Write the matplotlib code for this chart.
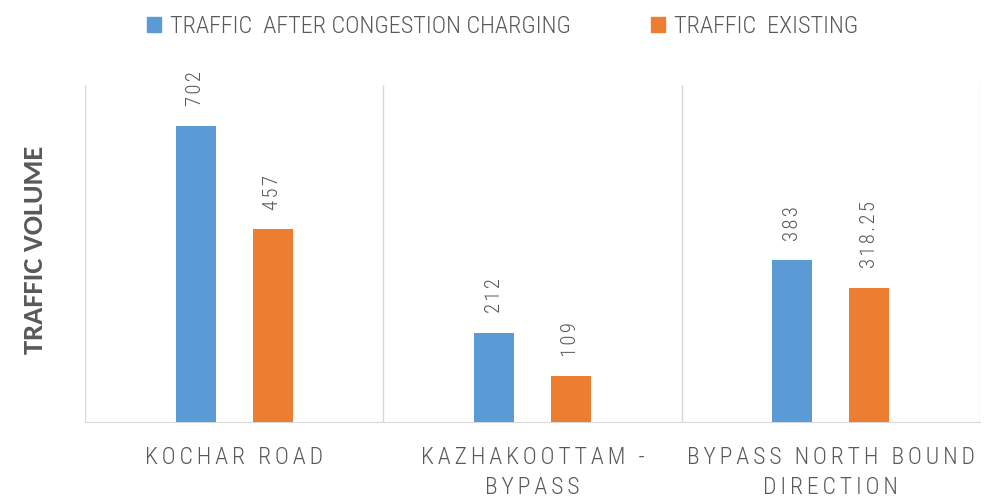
import matplotlib
matplotlib.use("Agg")
import matplotlib.pyplot as plt
import numpy as np
from matplotlib.patches import Patch

categories = ["KOCHAR ROAD", "KAZHAKOOTTAM -\nBYPASS", "BYPASS NORTH BOUND\nDIRECTION"]
after_charging = [702, 212, 383]
existing = [457, 109, 318.25]
series_names = ["TRAFFIC  AFTER CONGESTION CHARGING", "TRAFFIC  EXISTING"]
value_labels_after = ["702", "212", "383"]
value_labels_existing = ["457", "109", "318.25"]

BLUE = "#5b9bd5"
ORANGE = "#ed7d31"
TXT = "#595959"
GRID = "#d9d9d9"
COND = ["Roboto Condensed", "DejaVu Sans"]


def spaced(s, sep="\u2006"):
    # imitate the wide letter spacing of the original
    return "\n".join(sep.join(line) for line in s.split("\n"))


fig = plt.figure(figsize=(9.97, 5.01), dpi=100)
ax = fig.add_axes([85 / 997, 1 - 422 / 501, 895 / 997, (422 - 84.6) / 501])

x = np.arange(len(categories))
off, w = 0.129, 0.134
b1 = ax.bar(x - off, after_charging, w, color=BLUE, zorder=3)
b2 = ax.bar(x + off, existing, w, color=ORANGE, zorder=3)

for bars, labels in ((b1, value_labels_after), (b2, value_labels_existing)):
    for r, lab in zip(bars, labels):
        ax.annotate(spaced(lab, "\u200a"), (r.get_x() + r.get_width() / 2, r.get_height()),
                    xytext=(0, 14), textcoords="offset points", rotation=90,
                    ha="center", va="bottom", color=TXT, fontsize=15,
                    family=COND, fontweight="light")

ax.set_xlim(-0.5, 2.5)
ax.set_ylim(0, 800)
ax.set_yticks([])
ax.set_xticks(x)
ax.set_xticklabels([spaced(c) for c in categories], family=COND, fontsize=17,
                   fontweight="light", color=TXT, linespacing=1.4)
ax.tick_params(axis="x", length=0, pad=17)
ax.set_xticks([-0.5, 0.5, 1.5, 2.5], minor=True)
ax.tick_params(axis="x", which="minor", length=0)
ax.grid(axis="x", which="minor", color=GRID, lw=1, zorder=0)
for s in ("top", "left", "right"):
    ax.spines[s].set_visible(False)
ax.spines["bottom"].set_color(GRID)

fig.text(35 / 997, 1 - 250 / 501, "TRAFFIC VOLUME", rotation=90, ha="center",
         va="center", color=TXT, fontsize=20.5, fontweight="bold",
         family=["Carlito", "DejaVu Sans"])

handles = [Patch(color=BLUE), Patch(color=ORANGE)]
fig.legend(handles, series_names, loc="upper center", bbox_to_anchor=(0.504, 1.014),
           ncol=2, frameon=False, handlelength=0.6, handleheight=0.6,
           handletextpad=0.35, columnspacing=3.3,
           prop={"family": COND, "size": 17.5, "weight": "light"}, labelcolor=TXT)

fig.savefig("out.png", dpi=100)
